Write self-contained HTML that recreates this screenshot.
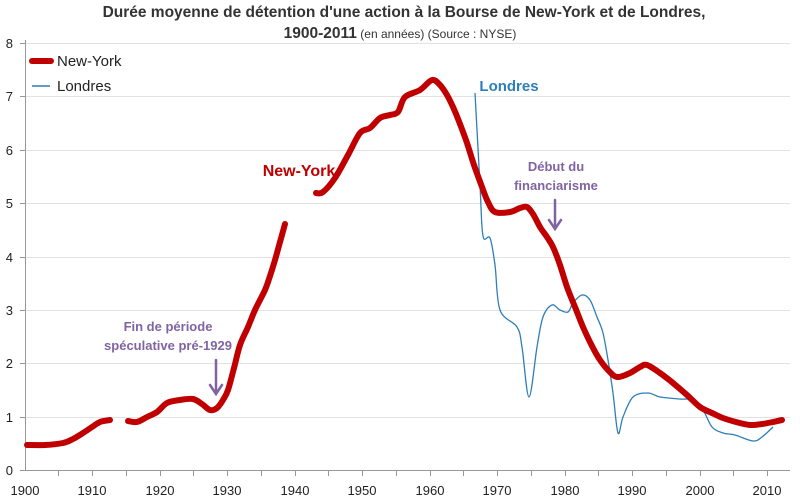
<!DOCTYPE html>
<html><head><meta charset="utf-8"><style>
html,body{margin:0;padding:0;background:#fff;}
svg{display:block;font-family:"Liberation Sans",sans-serif;}
</style></head><body>
<svg id="c" width="800" height="504" viewBox="0 0 800 504" xmlns="http://www.w3.org/2000/svg">
<rect width="800" height="504" fill="#fff"/>
<text x="404" y="17" text-anchor="middle" font-size="15.5" font-weight="bold" fill="#333">Durée moyenne de détention d'une action à la Bourse de New-York et de Londres,</text>
<text x="400" y="38" text-anchor="middle" font-size="15.5" fill="#333"><tspan font-weight="bold">1900-2011</tspan><tspan font-size="12"> (en années) (Source : NYSE)</tspan></text>
<g stroke="#e2e2e2" stroke-width="1">
<line x1="25" y1="43.5" x2="790" y2="43.5"/><line x1="25" y1="96.5" x2="790" y2="96.5"/>
<line x1="25" y1="150.5" x2="790" y2="150.5"/><line x1="25" y1="203.5" x2="790" y2="203.5"/>
<line x1="25" y1="257.5" x2="790" y2="257.5"/><line x1="25" y1="310.5" x2="790" y2="310.5"/>
<line x1="25" y1="363.5" x2="790" y2="363.5"/><line x1="25" y1="417.5" x2="790" y2="417.5"/>
</g>
<g stroke="#999" stroke-width="1">
<line x1="25.5" y1="40" x2="25.5" y2="471"/><line x1="20" y1="470.5" x2="790" y2="470.5"/>
<line x1="20" y1="43.5" x2="25" y2="43.5"/><line x1="20" y1="96.5" x2="25" y2="96.5"/><line x1="20" y1="150.5" x2="25" y2="150.5"/><line x1="20" y1="203.5" x2="25" y2="203.5"/><line x1="20" y1="257.5" x2="25" y2="257.5"/><line x1="20" y1="310.5" x2="25" y2="310.5"/><line x1="20" y1="363.5" x2="25" y2="363.5"/><line x1="20" y1="417.5" x2="25" y2="417.5"/>
<line x1="58.5" y1="470" x2="58.5" y2="476"/><line x1="92.5" y1="470" x2="92.5" y2="476"/><line x1="126.5" y1="470" x2="126.5" y2="476"/><line x1="160.5" y1="470" x2="160.5" y2="476"/><line x1="193.5" y1="470" x2="193.5" y2="476"/><line x1="227.5" y1="470" x2="227.5" y2="476"/><line x1="261.5" y1="470" x2="261.5" y2="476"/><line x1="295.5" y1="470" x2="295.5" y2="476"/><line x1="328.5" y1="470" x2="328.5" y2="476"/><line x1="362.5" y1="470" x2="362.5" y2="476"/><line x1="396.5" y1="470" x2="396.5" y2="476"/><line x1="430.5" y1="470" x2="430.5" y2="476"/><line x1="463.5" y1="470" x2="463.5" y2="476"/><line x1="497.5" y1="470" x2="497.5" y2="476"/><line x1="531.5" y1="470" x2="531.5" y2="476"/><line x1="565.5" y1="470" x2="565.5" y2="476"/><line x1="598.5" y1="470" x2="598.5" y2="476"/><line x1="632.5" y1="470" x2="632.5" y2="476"/><line x1="666.5" y1="470" x2="666.5" y2="476"/><line x1="700.5" y1="470" x2="700.5" y2="476"/><line x1="733.5" y1="470" x2="733.5" y2="476"/><line x1="767.5" y1="470" x2="767.5" y2="476"/>
</g>
<g font-size="13" fill="#222" text-anchor="end">
<text x="13" y="48">8</text><text x="13" y="101">7</text><text x="13" y="155">6</text><text x="13" y="208">5</text><text x="13" y="262">4</text><text x="13" y="315">3</text><text x="13" y="368">2</text><text x="13" y="422">1</text><text x="13" y="475">0</text>
</g>
<g font-size="13" fill="#222" text-anchor="middle">
<text x="25" y="495">1900</text><text x="92" y="495">1910</text><text x="160" y="495">1920</text><text x="227" y="495">1930</text><text x="295" y="495">1940</text><text x="362" y="495">1950</text><text x="430" y="495">1960</text><text x="497" y="495">1970</text><text x="565" y="495">1980</text><text x="632" y="495">1990</text><text x="700" y="495">2000</text><text x="767" y="495">2010</text>
</g>
<polyline class="s" fill="none" stroke="#2e7fb8" stroke-width="1.3" stroke-linejoin="round" points="475,93 480,185 483,236 490,238 495,265 500,310 517,327 522,347 529,397 537,347 543,317 552,305 560,310 568,312 573,303 582,295 590,300 597,317 603,333 608,360 613,393 618,433 623,417 633,397 648,393 660,397 680,399 693,400 703,410 712,427 723,433 735,435 753,441 762,437 773,427"/>
<g fill="none" stroke="#c00000" stroke-width="6" stroke-linejoin="round" stroke-linecap="round">
<polyline class="s" points="27,445 45,445 63,443 73,439 83,433 92,427 100,422 110,420"/>
<polyline class="s" points="128,421 137,422 147,417 157,412 167,403 180,400 193,399 202,404 210,410 217,408 223,400 228,390 234,368 240,345 248,327 255,310 265,290 270,276 275,260 280,242 285,224"/>
<polyline class="s" points="316,193 323,192 335,178 348,155 360,133 370,128 380,118 390,115 398,112 405,97 420,90 432,80 440,85 447,95 453,107 460,124 467,143 474,165 482,187 488,202 495,212 510,212 520,208 527,207 533,214 540,227 547,237 553,247 560,265 567,287 575,307 583,327 592,346 600,360 608,370 617,377 630,373 640,367 647,365 660,373 673,383 687,395 700,407 712,413 723,418 736,422 750,425 762,424 773,422 782,420"/>
</g>
<line x1="32" y1="61" x2="51" y2="61" stroke="#c00000" stroke-width="6" stroke-linecap="round"/>
<text x="57" y="66" font-size="15" fill="#222">New-York</text>
<line x1="32" y1="86" x2="50" y2="86" stroke="#2e7fb8" stroke-width="1.5"/>
<text x="57" y="91" font-size="15" fill="#222">Londres</text>
<text x="299" y="176" text-anchor="middle" font-size="16" font-weight="bold" fill="#c00000">New-York</text>
<text x="509" y="91" text-anchor="middle" font-size="15" font-weight="bold" fill="#2e7fb8">Londres</text>
<g font-size="13" font-weight="bold" fill="#8064a2" text-anchor="middle">
<text x="168" y="331">Fin de période</text><text x="168" y="350">spéculative pré-1929</text>
<text x="556" y="171">Début du</text><text x="556" y="190">financiarisme</text>
</g>
<g stroke="#8064a2" stroke-width="2.5" fill="none" stroke-linecap="round">
<line x1="216" y1="360" x2="216" y2="393"/><polyline points="210,385 216,394 222,385"/>
<line x1="555" y1="200" x2="555" y2="228"/><polyline points="549,220 555,229 561,220"/>
</g>
</svg>
<script>
(function(){
var ns="http://www.w3.org/2000/svg";
var pls=document.querySelectorAll("polyline.s");
for(var k=0;k<pls.length;k++){
var pl=pls[k];
var pts=pl.getAttribute("points").trim().split(/\s+/).map(function(s){var a=s.split(",");return [+a[0],+a[1]];});
var d="M"+pts[0][0]+","+pts[0][1];
for(var i=0;i<pts.length-1;i++){
var p0=pts[i>0?i-1:i],p1=pts[i],p2=pts[i+1],p3=pts[i+2<pts.length?i+2:i+1];
var c1x=p1[0]+(p2[0]-p0[0])/6,c1y=p1[1]+(p2[1]-p0[1])/6;
var c2x=p2[0]-(p3[0]-p1[0])/6,c2y=p2[1]-(p3[1]-p1[1])/6;
d+=" C"+c1x.toFixed(1)+","+c1y.toFixed(1)+" "+c2x.toFixed(1)+","+c2y.toFixed(1)+" "+p2[0]+","+p2[1];
}
var p=document.createElementNS(ns,"path");
p.setAttribute("d",d);
var attrs=["fill","stroke","stroke-width","stroke-linejoin","stroke-linecap"];
for(var j=0;j<attrs.length;j++){var v=pl.getAttribute(attrs[j]);if(v)p.setAttribute(attrs[j],v);}
pl.parentNode.replaceChild(p,pl);
}
})();
</script>
</body></html>
